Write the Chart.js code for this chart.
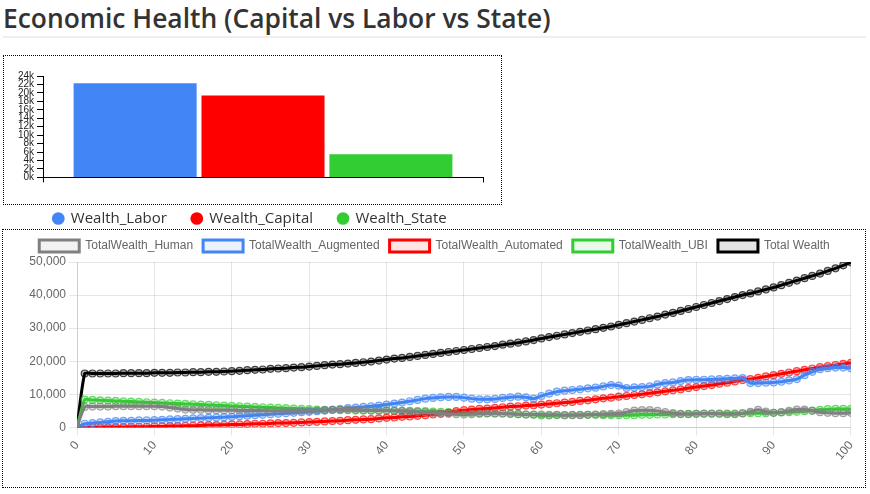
<!DOCTYPE html>
<html><head><meta charset="utf-8">
<script src="https://cdn.jsdelivr.net/npm/chart.js@4.4.1/dist/chart.umd.min.js"></script>
<style>
html,body{margin:0;padding:0;background:#fff;}
body{width:870px;height:494px;position:relative;overflow:hidden;font-family:'Open Sans',sans-serif;}
#title{position:absolute;left:3px;top:0;width:863px;height:36px;border-bottom:2px solid #eee;font-size:26.4px;line-height:36px;font-weight:600;color:#333;white-space:nowrap;}
#box1{position:absolute;left:3px;top:55px;width:497px;height:148px;border:1px dotted #000;}
#c1wrap{position:absolute;left:4px;top:56px;width:497px;height:180px;}
#box2{position:absolute;left:2px;top:229px;width:862px;height:257px;border:1px dotted #000;}
#c2wrap{position:absolute;left:3px;top:230px;width:862px;height:257px;}
</style>
</head>
<body>
<div id="title">Economic Health (Capital vs Labor vs State)</div>
<div id="box1"></div>
<div id="c1wrap"><canvas id="c1"></canvas></div>
<div id="box2"></div>
<div id="c2wrap"><canvas id="c2"></canvas></div>
<script>
// ---- Bar chart data ----
const barCategories = ['Wealth'];
const wealthLabor = [22300];
const wealthCapital = [19400];
const wealthState = [5500];

// ---- Line chart data (thousands) ----
const steps = [0,1,2,3,4,5,6,7,8,9,10,11,12,13,14,15,16,17,18,19,20,21,22,23,24,25,26,27,28,29,30,31,32,33,34,35,36,37,38,39,40,41,42,43,44,45,46,47,48,49,50,51,52,53,54,55,56,57,58,59,60,61,62,63,64,65,66,67,68,69,70,71,72,73,74,75,76,77,78,79,80,81,82,83,84,85,86,87,88,89,90,91,92,93,94,95,96,97,98,99,100];
const totalWealthHuman = [0,
 6.2,6.3,6.3,6.3,6.4,6.4,6.4,6.4,6.4,6.4,
 6.3,6.0,5.7,5.4,5.3,5.3,5.2,5.2,5.2,5.2,
 5.1,5.1,5.1,5.1,5.0,5.0,5.0,5.0,5.0,5.0,
 5.1,5.2,5.3,5.4,5.4,5.3,5.2,5.1,5.1,5.1,
 5.0,4.9,4.8,4.7,4.6,4.4,4.2,4.1,4.0,3.9,
 4.0,4.1,4.2,4.2,4.2,4.1,4.0,3.9,3.9,3.9,
 3.8,3.8,3.7,3.7,3.7,3.8,3.9,4.0,4.1,4.2,
 4.6,5.1,5.2,5.2,5.0,4.6,4.3,4.1,4.0,4.1,
 4.2,4.2,4.1,4.0,4.0,4.3,4.7,5.3,4.8,4.4,
 4.6,5.0,5.4,5.4,5.0,4.6,4.4,4.3,4.3,4.4];
const totalWealthAugmented = [0,
 1.1,1.3,1.5,1.7,1.9,2.0,2.0,2.1,2.1,2.2,
 2.3,2.4,2.5,2.6,2.7,2.8,2.9,3.0,3.1,3.2,
 3.4,3.5,3.7,3.8,4.0,4.1,4.3,4.4,4.6,4.7,
 4.9,5.1,5.3,5.5,5.8,6.0,6.2,6.4,6.6,6.9,
 7.2,7.5,7.9,8.3,8.7,8.9,9.1,9.2,9.2,9.0,
 8.7,8.5,8.5,8.6,8.9,9.1,9.3,9.1,8.7,9.5,
 10.2,10.8,11.1,11.3,11.5,11.8,12.0,12.4,12.8,12.6,
 11.9,12.1,12.2,12.4,13.0,13.4,13.6,14.0,14.3,14.4,
 14.4,14.5,14.6,14.7,14.8,14.9,13.4,13.4,13.5,13.6,
 13.8,14.2,14.6,15.8,16.8,17.6,17.9,18.1,18.1,17.9];
const totalWealthAutomated = [0,
 0.0,0.0,0.0,0.1,0.1,0.1,0.2,0.2,0.2,0.3,
 0.3,0.4,0.4,0.5,0.5,0.6,0.7,0.7,0.8,0.9,
 0.9,1.0,1.1,1.1,1.2,1.3,1.3,1.4,1.5,1.6,
 1.7,1.8,1.9,2.0,2.2,2.3,2.4,2.5,2.7,2.9,
 3.0,3.2,3.3,3.5,3.7,3.9,4.1,4.4,4.9,5.2,
 5.4,5.6,5.7,5.9,6.1,6.3,6.4,6.6,6.7,6.9,
 7.1,7.3,7.5,7.7,8.0,8.2,8.5,8.8,9.0,9.3,
 9.5,9.8,10.0,10.3,10.6,10.9,11.2,11.5,11.9,12.2,
 12.5,12.8,13.2,13.5,13.9,14.3,14.6,15.0,15.4,15.8,
 16.2,16.6,17.0,17.4,17.8,18.2,18.5,18.8,19.2,19.5];
const totalWealthUBI = [0,
 8.4,8.3,8.2,8.1,8.0,7.9,7.8,7.7,7.6,7.5,
 7.4,7.3,7.2,7.1,7.0,6.9,6.8,6.7,6.6,6.5,
 6.4,6.3,6.2,6.1,6.0,5.9,5.8,5.7,5.6,5.5,
 5.4,5.3,5.3,5.2,5.2,5.1,5.1,5.1,5.1,5.1,
 5.0,5.0,5.0,4.9,4.9,4.8,4.7,4.6,4.5,4.4,
 4.4,4.3,4.3,4.2,4.2,4.1,4.0,3.9,3.8,3.6,
 3.6,3.7,3.7,3.8,3.8,3.8,3.8,3.7,3.7,3.7,
 3.7,3.7,3.8,3.8,3.9,3.9,4.0,4.0,4.1,4.1,
 4.1,4.1,4.2,4.2,4.2,4.2,4.3,4.3,4.3,4.4,
 4.5,4.6,4.7,4.9,5.1,5.3,5.5,5.6,5.6,5.6];
const totalWealth = [0,
 16.3,16.3,16.3,16.3,16.3,16.4,16.4,16.4,16.4,16.5,
 16.5,16.5,16.6,16.6,16.7,16.7,16.8,16.8,16.9,17.0,
 17.1,17.3,17.4,17.5,17.7,17.8,17.9,18.1,18.2,18.4,
 18.6,18.8,19.0,19.1,19.3,19.5,19.7,19.9,20.2,20.5,
 20.8,21.0,21.3,21.6,21.9,22.2,22.5,22.8,23.1,23.4,
 23.7,24.0,24.3,24.6,25.0,25.3,25.6,26.0,26.4,26.9,
 27.3,27.7,28.1,28.5,28.9,29.3,29.7,30.1,30.5,31.0,
 31.5,32.0,32.5,33.0,33.5,34.1,34.6,35.2,35.8,36.4,
 37.0,37.6,38.2,38.8,39.4,40.0,40.5,41.1,41.7,42.3,
 43.0,43.7,44.4,45.1,45.8,46.5,47.3,48.1,49.0,49.9];

new Chart(document.getElementById('c1'), {
  type: 'bar',
  data: {
    labels: barCategories,
    datasets: [
      {label: 'Wealth_Labor', data: wealthLabor, backgroundColor: '#4285F4'},
      {label: 'Wealth_Capital', data: wealthCapital, backgroundColor: '#FF0000'},
      {label: 'Wealth_State', data: wealthState, backgroundColor: '#32CD32'}
    ]
  },
  options: {
    responsive: true, maintainAspectRatio: false, animation: false,
    layout: {padding: {left: 13, right: 18, top: 20, bottom: 0}},
    datasets: {bar: {categoryPercentage: 0.872, barPercentage: 0.962}},
    plugins: {
      legend: {position: 'bottom', labels: {usePointStyle: true, pointStyle: 'circle', boxWidth: 10, boxHeight: 9, padding: 25, color: '#333', font: {family: 'Open Sans', size: 15}}},
      tooltip: {enabled: false}
    },
    scales: {
      x: {grid: {display: true, drawOnChartArea: false, tickLength: 5, color: '#000'},
          border: {display: true, color: '#000', width: 1},
          ticks: {display: false},
          title: {display: true, text: ' ', padding: 0, font: {size: 3}}},
      y: {min: 0, max: 24000,
          afterFit: s => { s.width = 26; },
          grid: {drawOnChartArea: false, tickLength: 6, color: '#000'},
          border: {color: '#000', width: 1},
          ticks: {stepSize: 2000, autoSkip: false, padding: 3, color: '#222', font: {family: 'Liberation Sans', size: 10}, callback: v => (v / 1000) + 'k'}}
    }
  }
});

function pts(arr) { return arr.map((v, i) => ({x: steps[i], y: v * 1000})); }
function ds(label, arr, rgb) {
  return {
    label: label, data: pts(arr),
    borderColor: 'rgb(' + rgb + ')', backgroundColor: 'rgba(' + rgb + ',0.1)',
    borderWidth: 3, pointRadius: 3.5, pointBorderWidth: 1.2,
    pointBackgroundColor: 'rgba(' + rgb + ',0.3)', pointBorderColor: 'rgba(' + rgb + ',0.7)',
    tension: 0.2
  };
}

new Chart(document.getElementById('c2'), {
  type: 'line',
  data: {
    datasets: [
      ds('TotalWealth_Human', totalWealthHuman, '128,128,128'),
      ds('TotalWealth_Augmented', totalWealthAugmented, '66,133,244'),
      ds('TotalWealth_Automated', totalWealthAutomated, '255,0,0'),
      ds('TotalWealth_UBI', totalWealthUBI, '50,205,50'),
      ds('Total Wealth', totalWealth, '0,0,0')
    ]
  },
  options: {
    responsive: true, maintainAspectRatio: false, animation: false,
    layout: {padding: {left: 13, right: 12, top: 0, bottom: 21}},
    plugins: {legend: {labels: {color: '#666'}}, tooltip: {enabled: false}},
    scales: {
      x: {type: 'linear', min: 0, max: 100, ticks: {stepSize: 10, minRotation: 50, maxRotation: 50, color: '#666'}},
      y: {min: 0, max: 50000, afterFit: s => { s.width = 61; }, ticks: {stepSize: 10000, color: '#666'}}
    }
  }
});
</script>
</body></html>
